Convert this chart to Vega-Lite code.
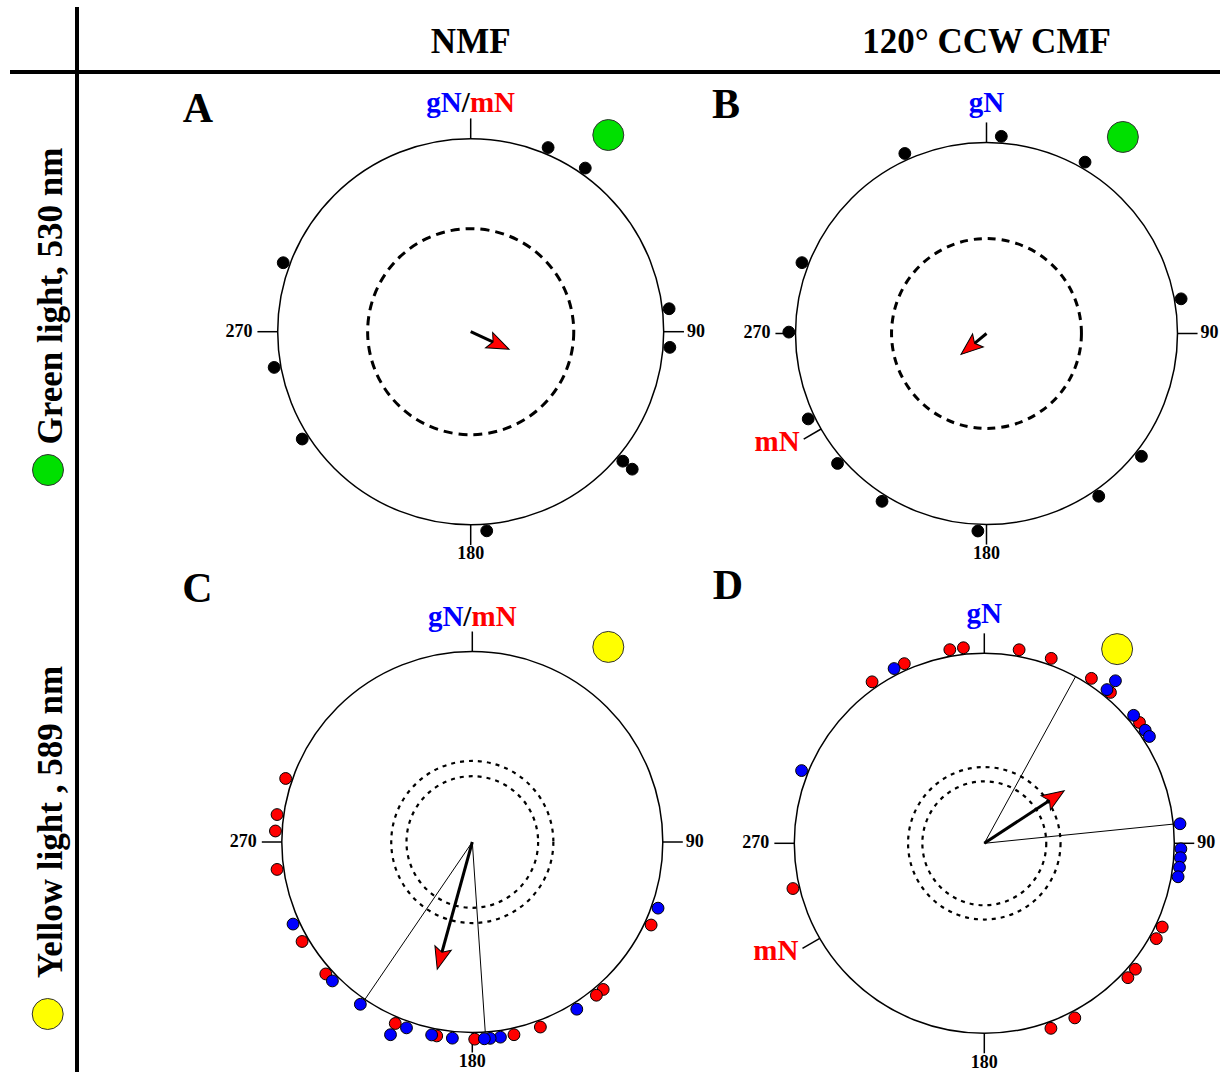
{
  "padding": {"left": 0, "top": 7, "right": 0, "bottom": 0},
  "autosize": {"type": "pad"},
  "background": "white",
  "spacing": 0,
  "config": {
    "view": {"stroke": null},
    "axis": {"disable": true},
    "legend": {"disable": true},
    "text": {"font": "Liberation Serif", "fontWeight": "bold"}
  },
  "datasets": {
    "dots": [
      {"panel": "A", "ref": "all", "angle": 22.8, "stack": 1},
      {"panel": "A", "ref": "all", "angle": 35, "stack": 1},
      {"panel": "A", "ref": "all", "angle": 83.4, "stack": 1},
      {"panel": "A", "ref": "all", "angle": 94.5, "stack": 1},
      {"panel": "A", "ref": "all", "angle": 130.4, "stack": 1},
      {"panel": "A", "ref": "all", "angle": 130.4, "stack": 2},
      {"panel": "A", "ref": "all", "angle": 175.4, "stack": 1},
      {"panel": "A", "ref": "all", "angle": 237.5, "stack": 1},
      {"panel": "A", "ref": "all", "angle": 259.7, "stack": 1},
      {"panel": "A", "ref": "all", "angle": 290.2, "stack": 1},
      {"panel": "B", "ref": "all", "angle": 4.3, "stack": 1},
      {"panel": "B", "ref": "all", "angle": 29.9, "stack": 1},
      {"panel": "B", "ref": "all", "angle": 79.9, "stack": 1},
      {"panel": "B", "ref": "all", "angle": 128.4, "stack": 1},
      {"panel": "B", "ref": "all", "angle": 145.4, "stack": 1},
      {"panel": "B", "ref": "all", "angle": 182.5, "stack": 1},
      {"panel": "B", "ref": "all", "angle": 211.9, "stack": 1},
      {"panel": "B", "ref": "all", "angle": 228.9, "stack": 1},
      {"panel": "B", "ref": "all", "angle": 244.4, "stack": 1},
      {"panel": "B", "ref": "all", "angle": 270.4, "stack": 1},
      {"panel": "B", "ref": "all", "angle": 291, "stack": 1},
      {"panel": "B", "ref": "all", "angle": 335.6, "stack": 1},
      {"panel": "C", "ref": "mN", "angle": 114.9, "stack": 1},
      {"panel": "C", "ref": "mN", "angle": 138.4, "stack": 1},
      {"panel": "C", "ref": "mN", "angle": 141, "stack": 1},
      {"panel": "C", "ref": "mN", "angle": 159.8, "stack": 1},
      {"panel": "C", "ref": "mN", "angle": 167.8, "stack": 1},
      {"panel": "C", "ref": "mN", "angle": 179.3, "stack": 1},
      {"panel": "C", "ref": "mN", "angle": 190.4, "stack": 1},
      {"panel": "C", "ref": "mN", "angle": 203, "stack": 1},
      {"panel": "C", "ref": "mN", "angle": 228, "stack": 1},
      {"panel": "C", "ref": "mN", "angle": 239.7, "stack": 1},
      {"panel": "C", "ref": "mN", "angle": 262, "stack": 1},
      {"panel": "C", "ref": "mN", "angle": 273.2, "stack": 1},
      {"panel": "C", "ref": "mN", "angle": 278, "stack": 1},
      {"panel": "C", "ref": "mN", "angle": 288.8, "stack": 1},
      {"panel": "C", "ref": "gN", "angle": 109.6, "stack": 1},
      {"panel": "C", "ref": "gN", "angle": 148, "stack": 1},
      {"panel": "C", "ref": "gN", "angle": 171.8, "stack": 1},
      {"panel": "C", "ref": "gN", "angle": 174.8, "stack": 1},
      {"panel": "C", "ref": "gN", "angle": 176.5, "stack": 1},
      {"panel": "C", "ref": "gN", "angle": 185.8, "stack": 1},
      {"panel": "C", "ref": "gN", "angle": 191.9, "stack": 1},
      {"panel": "C", "ref": "gN", "angle": 199.5, "stack": 1},
      {"panel": "C", "ref": "gN", "angle": 203, "stack": 2},
      {"panel": "C", "ref": "gN", "angle": 214.6, "stack": 1},
      {"panel": "C", "ref": "gN", "angle": 225.2, "stack": 1},
      {"panel": "C", "ref": "gN", "angle": 245.4, "stack": 1},
      {"panel": "D", "ref": "mN", "angle": 10.2, "stack": 1},
      {"panel": "D", "ref": "mN", "angle": 19.9, "stack": 1},
      {"panel": "D", "ref": "mN", "angle": 33, "stack": 1},
      {"panel": "D", "ref": "mN", "angle": 39.9, "stack": 1},
      {"panel": "D", "ref": "mN", "angle": 52.1, "stack": 1},
      {"panel": "D", "ref": "mN", "angle": 115.2, "stack": 1},
      {"panel": "D", "ref": "mN", "angle": 119, "stack": 1},
      {"panel": "D", "ref": "mN", "angle": 129.8, "stack": 1},
      {"panel": "D", "ref": "mN", "angle": 133.1, "stack": 1},
      {"panel": "D", "ref": "mN", "angle": 152.6, "stack": 1},
      {"panel": "D", "ref": "mN", "angle": 160.2, "stack": 1},
      {"panel": "D", "ref": "mN", "angle": 256.7, "stack": 1},
      {"panel": "D", "ref": "mN", "angle": 325.2, "stack": 1},
      {"panel": "D", "ref": "mN", "angle": 336, "stack": 1},
      {"panel": "D", "ref": "mN", "angle": 349.9, "stack": 1},
      {"panel": "D", "ref": "mN", "angle": 353.9, "stack": 1},
      {"panel": "D", "ref": "gN", "angle": 38.6, "stack": 1},
      {"panel": "D", "ref": "gN", "angle": 38.9, "stack": 2},
      {"panel": "D", "ref": "gN", "angle": 49.4, "stack": 1},
      {"panel": "D", "ref": "gN", "angle": 54.9, "stack": 1},
      {"panel": "D", "ref": "gN", "angle": 57.1, "stack": 1},
      {"panel": "D", "ref": "gN", "angle": 84.3, "stack": 1},
      {"panel": "D", "ref": "gN", "angle": 91.6, "stack": 1},
      {"panel": "D", "ref": "gN", "angle": 94.2, "stack": 1},
      {"panel": "D", "ref": "gN", "angle": 97, "stack": 1},
      {"panel": "D", "ref": "gN", "angle": 99.8, "stack": 1},
      {"panel": "D", "ref": "gN", "angle": 291.7, "stack": 1},
      {"panel": "D", "ref": "gN", "angle": 332.7, "stack": 1}
    ],
    "stats": [
      {"panel": "A", "mean": 114.7, "len": 0.219},
      {"panel": "B", "mean": 230.6, "len": 0.173},
      {"panel": "C", "mean": 195.4, "len": 0.693, "lo": 176.1, "hi": 214.3},
      {"panel": "D", "mean": 56.7, "len": 0.503, "lo": 28.7, "hi": 84.2}
    ],
    "rings": [
      {"panel": "A", "r": 0.534},
      {"panel": "B", "r": 0.492},
      {"panel": "C", "r": 0.341},
      {"panel": "C", "r": 0.42},
      {"panel": "D", "r": 0.321},
      {"panel": "D", "r": 0.395}
    ],
    "ticks": [
      {"panel": "A", "angle": 0}, {"panel": "A", "angle": 90}, {"panel": "A", "angle": 180}, {"panel": "A", "angle": 270},
      {"panel": "B", "angle": 0}, {"panel": "B", "angle": 90}, {"panel": "B", "angle": 180}, {"panel": "B", "angle": 270}, {"panel": "B", "angle": 240},
      {"panel": "C", "angle": 0}, {"panel": "C", "angle": 90}, {"panel": "C", "angle": 180}, {"panel": "C", "angle": 270},
      {"panel": "D", "angle": 0}, {"panel": "D", "angle": 90}, {"panel": "D", "angle": 180}, {"panel": "D", "angle": 270}, {"panel": "D", "angle": 240}
    ]
  },
  "hconcat": [
    {
      "vconcat": [
        {"width": 75, "height": 63, "view": {"fill": "white", "stroke": null}, "data": {"values": [{}]}, "mark": {"type": "point", "opacity": 0, "size": 0, "strokeWidth": 0}, "encoding": {}},
        {
          "hconcat": [
            {"width": 10, "height": 4, "view": {"fill": "white", "stroke": null}, "data": {"values": [{}]}, "mark": {"type": "point", "opacity": 0, "size": 0, "strokeWidth": 0}, "encoding": {}},
            {"width": 65, "height": 4, "view": {"fill": "black", "stroke": null}, "data": {"values": [{}]}, "mark": {"type": "point", "opacity": 0, "size": 0, "strokeWidth": 0}, "encoding": {}}
          ],
          "spacing": 0, "bounds": "flush"
        },
        {"width": 75, "height": 490, "view": {"fill": "white", "stroke": null}, "layer": [
          {"data": {"values": [{}]}, "mark": {"type": "text", "angle": 270, "align": "center", "baseline": "alphabetic", "fontSize": 35, "font": "Liberation Serif", "fontWeight": "bold", "fill": "black"},
           "encoding": {"text": {"value": "Green light, 530 nm"},
             "x": {"datum": 61.5, "type": "quantitative", "scale": {"domain": [0, 75], "nice": false, "zero": false}},
             "y": {"datum": 268, "type": "quantitative", "scale": {"domain": [0, 490], "nice": false, "zero": false}}}},
          {"data": {"values": [{}]}, "mark": {"type": "point", "shape": "circle", "filled": true, "size": 961, "fill": "#00e000", "stroke": "#333333", "strokeWidth": 1, "opacity": 1},
           "encoding": {"x": {"datum": 48, "type": "quantitative", "scale": {"domain": [0, 75], "nice": false, "zero": false}},
             "y": {"datum": 94, "type": "quantitative", "scale": {"domain": [0, 490], "nice": false, "zero": false}}}}
        ]},
        {"width": 75, "height": 508, "view": {"fill": "white", "stroke": null}, "layer": [
          {"data": {"values": [{}]}, "mark": {"type": "text", "angle": 270, "align": "center", "baseline": "alphabetic", "fontSize": 35, "font": "Liberation Serif", "fontWeight": "bold", "fill": "black"},
           "encoding": {"text": {"value": "Yellow light , 589 nm"},
             "x": {"datum": 61.5, "type": "quantitative", "scale": {"domain": [0, 75], "nice": false, "zero": false}},
             "y": {"datum": 250, "type": "quantitative", "scale": {"domain": [0, 508], "nice": false, "zero": false}}}},
          {"data": {"values": [{}]}, "mark": {"type": "point", "shape": "circle", "filled": true, "size": 961, "fill": "#ffff00", "stroke": "#333333", "strokeWidth": 1, "opacity": 1},
           "encoding": {"x": {"datum": 47.7, "type": "quantitative", "scale": {"domain": [0, 75], "nice": false, "zero": false}},
             "y": {"datum": 58, "type": "quantitative", "scale": {"domain": [0, 508], "nice": false, "zero": false}}}}
        ]}
      ],
      "spacing": 0
    },
    {"width": 4, "height": 1065, "view": {"fill": "black", "stroke": null}, "data": {"values": [{}]}, "mark": {"type": "point", "opacity": 0, "size": 0, "strokeWidth": 0}, "encoding": {}},
    {
      "vconcat": [
        {
          "hconcat": [
            {"width": 648, "height": 63, "view": {"fill": "white", "stroke": null}, "data": {"values": [{}]},
             "mark": {"type": "text", "fontSize": 35, "font": "Liberation Serif", "fontWeight": "bold", "align": "center", "baseline": "alphabetic", "fill": "black"},
             "encoding": {"text": {"value": "NMF"},
               "x": {"datum": 0, "type": "quantitative", "scale": {"domain": [-2.0295, 1.328], "nice": false, "zero": false}},
               "y": {"datum": 16.7, "type": "quantitative", "scale": {"domain": [0, 63], "nice": false, "zero": false}}}},
            {"width": 501, "height": 63, "view": {"fill": "white", "stroke": null}, "data": {"values": [{}]},
             "mark": {"type": "text", "fontSize": 35, "font": "Liberation Serif", "fontWeight": "bold", "align": "center", "baseline": "alphabetic", "fill": "black"},
             "encoding": {"text": {"value": "120° CCW CMF"},
               "x": {"datum": 0, "type": "quantitative", "scale": {"domain": [-1.3586, 1.2644], "nice": false, "zero": false}},
               "y": {"datum": 16.7, "type": "quantitative", "scale": {"domain": [0, 63], "nice": false, "zero": false}}}}
          ],
          "spacing": 0, "bounds": "flush"
        },
        {"width": 1141, "height": 4, "view": {"fill": "black", "stroke": null}, "data": {"values": [{}]}, "mark": {"type": "point", "opacity": 0, "size": 0, "strokeWidth": 0}, "encoding": {}},
        {
          "hconcat": [
            {"width": 648, "height": 490, "view": {"fill": "white", "stroke": null}, "layer": [
              {"data": {"values": [{}]}, "mark": {"type": "point", "shape": "circle", "filled": false, "size": 148996, "stroke": "black", "strokeWidth": 1.5, "opacity": 1},
               "encoding": {"x": {"datum": 0, "type": "quantitative", "scale": {"domain": [-2.0295, 1.328], "nice": false, "zero": false}},
                 "y": {"datum": 0, "type": "quantitative", "scale": {"domain": [-1.2036, 1.3352], "nice": false, "zero": false}}}},
              {"data": {"name": "rings"}, "transform": [{"filter": "datum.panel==='A'"}],
               "mark": {"type": "point", "shape": "circle", "filled": false, "stroke": "black", "strokeWidth": 3, "strokeDash": [9, 6], "opacity": 1},
               "encoding": {"x": {"datum": 0, "type": "quantitative", "scale": {"domain": [-2.0295, 1.328], "nice": false, "zero": false}},
                 "y": {"datum": 0, "type": "quantitative", "scale": {"domain": [-1.2036, 1.3352], "nice": false, "zero": false}},
                 "size": {"field": "r", "type": "quantitative", "scale": {"type": "pow", "exponent": 2, "domain": [0, 1], "range": [0, 148996]}, "legend": null}}},
              {"data": {"name": "ticks"}, "transform": [{"filter": "datum.panel==='A'"}, {"calculate": "sin(datum.angle*PI/180)", "as": "x"}, {"calculate": "cos(datum.angle*PI/180)", "as": "y"}, {"calculate": "1.105*datum.x", "as": "x2"}, {"calculate": "1.105*datum.y", "as": "y2"}],
               "mark": {"type": "rule", "stroke": "black", "strokeWidth": 1.5},
               "encoding": {"x": {"field": "x", "type": "quantitative", "scale": {"domain": [-2.0295, 1.328], "nice": false, "zero": false}},
                 "y": {"field": "y", "type": "quantitative", "scale": {"domain": [-1.2036, 1.3352], "nice": false, "zero": false}},
                 "x2": {"field": "x2"}, "y2": {"field": "y2"}}},
              {"data": {"name": "stats"}, "transform": [{"filter": "datum.panel==='A'"}, {"calculate": "0", "as": "x"}, {"calculate": "0", "as": "y"}, {"calculate": "(datum.len-0.09)*sin(datum.mean*PI/180)", "as": "x2"}, {"calculate": "(datum.len-0.09)*cos(datum.mean*PI/180)", "as": "y2"}],
               "mark": {"type": "rule", "stroke": "black", "strokeWidth": 3},
               "encoding": {"x": {"field": "x", "type": "quantitative", "scale": {"domain": [-2.0295, 1.328], "nice": false, "zero": false}},
                 "y": {"field": "y", "type": "quantitative", "scale": {"domain": [-1.2036, 1.3352], "nice": false, "zero": false}},
                 "x2": {"field": "x2"}, "y2": {"field": "y2"}}},
              {"data": {"name": "stats"}, "transform": [{"filter": "datum.panel==='A'"}, {"calculate": "datum.len*sin(datum.mean*PI/180)", "as": "x"}, {"calculate": "datum.len*cos(datum.mean*PI/180)", "as": "y"}],
               "mark": {"type": "point", "shape": "M0,0L0.77,2L0,1.6L-0.77,2Z", "filled": true, "fill": "#ff0000", "stroke": "black", "strokeWidth": 1, "size": 484, "opacity": 1},
               "encoding": {"x": {"field": "x", "type": "quantitative", "scale": {"domain": [-2.0295, 1.328], "nice": false, "zero": false}},
                 "y": {"field": "y", "type": "quantitative", "scale": {"domain": [-1.2036, 1.3352], "nice": false, "zero": false}},
                 "angle": {"field": "mean", "type": "quantitative", "scale": {"domain": [0, 360], "range": [0, 360]}}}},
              {"data": {"name": "dots"}, "transform": [{"filter": "datum.panel==='A'"}, {"calculate": "1.035+(datum.stack-1)*0.064", "as": "r"}, {"calculate": "datum.r*sin(datum.angle*PI/180)", "as": "x"}, {"calculate": "datum.r*cos(datum.angle*PI/180)", "as": "y"}],
               "mark": {"type": "point", "shape": "circle", "filled": true, "size": 140, "stroke": "black", "strokeWidth": 1, "opacity": 1},
               "encoding": {"x": {"field": "x", "type": "quantitative", "scale": {"domain": [-2.0295, 1.328], "nice": false, "zero": false}},
                 "y": {"field": "y", "type": "quantitative", "scale": {"domain": [-1.2036, 1.3352], "nice": false, "zero": false}},
                 "fill": {"field": "ref", "type": "nominal", "scale": {"domain": ["all", "mN", "gN"], "range": ["#000000", "#ff0000", "#0000ff"]}, "legend": null}}},
              {"data": {"values": [{}]}, "mark": {"type": "text", "align": "left", "baseline": "middle", "dx": 3, "fontSize": 18, "font": "Liberation Serif", "fontWeight": "bold", "fill": "black"},
               "encoding": {"text": {"value": "90"}, "x": {"datum": 1.105, "type": "quantitative", "scale": {"domain": [-2.0295, 1.328], "nice": false, "zero": false}},
                 "y": {"datum": 0, "type": "quantitative", "scale": {"domain": [-1.2036, 1.3352], "nice": false, "zero": false}}}},
              {"data": {"values": [{}]}, "mark": {"type": "text", "align": "right", "baseline": "middle", "dx": -5, "fontSize": 18, "font": "Liberation Serif", "fontWeight": "bold", "fill": "black"},
               "encoding": {"text": {"value": "270"}, "x": {"datum": -1.105, "type": "quantitative", "scale": {"domain": [-2.0295, 1.328], "nice": false, "zero": false}},
                 "y": {"datum": 0, "type": "quantitative", "scale": {"domain": [-1.2036, 1.3352], "nice": false, "zero": false}}}},
              {"data": {"values": [{}]}, "mark": {"type": "text", "align": "center", "baseline": "alphabetic", "dy": 14.5, "fontSize": 18, "font": "Liberation Serif", "fontWeight": "bold", "fill": "black"},
               "encoding": {"text": {"value": "180"}, "x": {"datum": 0, "type": "quantitative", "scale": {"domain": [-2.0295, 1.328], "nice": false, "zero": false}},
                 "y": {"datum": -1.105, "type": "quantitative", "scale": {"domain": [-1.2036, 1.3352], "nice": false, "zero": false}}}},
              {"data": {"values": [{}]}, "mark": {"type": "text", "align": "right", "baseline": "alphabetic", "dx": -8.9, "dy": -6, "fontSize": 29, "font": "Liberation Serif", "fontWeight": "bold", "fill": "#0000ff"},
               "encoding": {"text": {"value": "gN"}, "x": {"datum": 0, "type": "quantitative", "scale": {"domain": [-2.0295, 1.328], "nice": false, "zero": false}},
                 "y": {"datum": 1.105, "type": "quantitative", "scale": {"domain": [-1.2036, 1.3352], "nice": false, "zero": false}}}},
              {"data": {"values": [{}]}, "mark": {"type": "text", "align": "center", "baseline": "alphabetic", "dx": -4.9, "dy": -6, "fontSize": 29, "font": "Liberation Serif", "fontWeight": "bold", "fill": "black"},
               "encoding": {"text": {"value": "/"}, "x": {"datum": 0, "type": "quantitative", "scale": {"domain": [-2.0295, 1.328], "nice": false, "zero": false}},
                 "y": {"datum": 1.105, "type": "quantitative", "scale": {"domain": [-1.2036, 1.3352], "nice": false, "zero": false}}}},
              {"data": {"values": [{}]}, "mark": {"type": "text", "align": "left", "baseline": "alphabetic", "dx": -0.8, "dy": -6, "fontSize": 29, "font": "Liberation Serif", "fontWeight": "bold", "fill": "#ff0000"},
               "encoding": {"text": {"value": "mN"}, "x": {"datum": 0, "type": "quantitative", "scale": {"domain": [-2.0295, 1.328], "nice": false, "zero": false}},
                 "y": {"datum": 1.105, "type": "quantitative", "scale": {"domain": [-1.2036, 1.3352], "nice": false, "zero": false}}}},
              {"data": {"values": [{}]}, "mark": {"type": "text", "align": "center", "baseline": "alphabetic", "fontSize": 42, "font": "Liberation Serif", "fontWeight": "bold", "fill": "black"},
               "encoding": {"text": {"value": "A"}, "x": {"datum": -1.413, "type": "quantitative", "scale": {"domain": [-2.0295, 1.328], "nice": false, "zero": false}},
                 "y": {"datum": 1.087, "type": "quantitative", "scale": {"domain": [-1.2036, 1.3352], "nice": false, "zero": false}}}},
              {"data": {"values": [{}]}, "mark": {"type": "point", "shape": "circle", "filled": true, "size": 961, "fill": "#00e000", "stroke": "#333333", "strokeWidth": 1, "opacity": 1},
               "encoding": {"x": {"datum": 0.713, "type": "quantitative", "scale": {"domain": [-2.0295, 1.328], "nice": false, "zero": false}},
                 "y": {"datum": 1.019, "type": "quantitative", "scale": {"domain": [-1.2036, 1.3352], "nice": false, "zero": false}}}}
            ]},
            {"width": 501, "height": 490, "view": {"fill": "white", "stroke": null}, "layer": [
              {"data": {"values": [{}]}, "mark": {"type": "point", "shape": "circle", "filled": false, "size": 145924, "stroke": "black", "strokeWidth": 1.5, "opacity": 1},
               "encoding": {"x": {"datum": 0, "type": "quantitative", "scale": {"domain": [-1.3586, 1.2644], "nice": false, "zero": false}},
                 "y": {"datum": 0, "type": "quantitative", "scale": {"domain": [-1.2068, 1.3586], "nice": false, "zero": false}}}},
              {"data": {"name": "rings"}, "transform": [{"filter": "datum.panel==='B'"}],
               "mark": {"type": "point", "shape": "circle", "filled": false, "stroke": "black", "strokeWidth": 3, "strokeDash": [8, 6], "opacity": 1},
               "encoding": {"x": {"datum": 0, "type": "quantitative", "scale": {"domain": [-1.3586, 1.2644], "nice": false, "zero": false}},
                 "y": {"datum": 0, "type": "quantitative", "scale": {"domain": [-1.2068, 1.3586], "nice": false, "zero": false}},
                 "size": {"field": "r", "type": "quantitative", "scale": {"type": "pow", "exponent": 2, "domain": [0, 1], "range": [0, 145924]}, "legend": null}}},
              {"data": {"name": "ticks"}, "transform": [{"filter": "datum.panel==='B'"}, {"calculate": "sin(datum.angle*PI/180)", "as": "x"}, {"calculate": "cos(datum.angle*PI/180)", "as": "y"}, {"calculate": "1.105*datum.x", "as": "x2"}, {"calculate": "1.105*datum.y", "as": "y2"}],
               "mark": {"type": "rule", "stroke": "black", "strokeWidth": 1.5},
               "encoding": {"x": {"field": "x", "type": "quantitative", "scale": {"domain": [-1.3586, 1.2644], "nice": false, "zero": false}},
                 "y": {"field": "y", "type": "quantitative", "scale": {"domain": [-1.2068, 1.3586], "nice": false, "zero": false}},
                 "x2": {"field": "x2"}, "y2": {"field": "y2"}}},
              {"data": {"name": "stats"}, "transform": [{"filter": "datum.panel==='B'"}, {"calculate": "0", "as": "x"}, {"calculate": "0", "as": "y"}, {"calculate": "(datum.len-0.09)*sin(datum.mean*PI/180)", "as": "x2"}, {"calculate": "(datum.len-0.09)*cos(datum.mean*PI/180)", "as": "y2"}],
               "mark": {"type": "rule", "stroke": "black", "strokeWidth": 3},
               "encoding": {"x": {"field": "x", "type": "quantitative", "scale": {"domain": [-1.3586, 1.2644], "nice": false, "zero": false}},
                 "y": {"field": "y", "type": "quantitative", "scale": {"domain": [-1.2068, 1.3586], "nice": false, "zero": false}},
                 "x2": {"field": "x2"}, "y2": {"field": "y2"}}},
              {"data": {"name": "stats"}, "transform": [{"filter": "datum.panel==='B'"}, {"calculate": "datum.len*sin(datum.mean*PI/180)", "as": "x"}, {"calculate": "datum.len*cos(datum.mean*PI/180)", "as": "y"}],
               "mark": {"type": "point", "shape": "M0,0L0.77,2L0,1.6L-0.77,2Z", "filled": true, "fill": "#ff0000", "stroke": "black", "strokeWidth": 1, "size": 484, "opacity": 1},
               "encoding": {"x": {"field": "x", "type": "quantitative", "scale": {"domain": [-1.3586, 1.2644], "nice": false, "zero": false}},
                 "y": {"field": "y", "type": "quantitative", "scale": {"domain": [-1.2068, 1.3586], "nice": false, "zero": false}},
                 "angle": {"field": "mean", "type": "quantitative", "scale": {"domain": [0, 360], "range": [0, 360]}}}},
              {"data": {"name": "dots"}, "transform": [{"filter": "datum.panel==='B'"}, {"calculate": "1.035+(datum.stack-1)*0.064", "as": "r"}, {"calculate": "datum.r*sin(datum.angle*PI/180)", "as": "x"}, {"calculate": "datum.r*cos(datum.angle*PI/180)", "as": "y"}],
               "mark": {"type": "point", "shape": "circle", "filled": true, "size": 140, "stroke": "black", "strokeWidth": 1, "opacity": 1},
               "encoding": {"x": {"field": "x", "type": "quantitative", "scale": {"domain": [-1.3586, 1.2644], "nice": false, "zero": false}},
                 "y": {"field": "y", "type": "quantitative", "scale": {"domain": [-1.2068, 1.3586], "nice": false, "zero": false}},
                 "fill": {"field": "ref", "type": "nominal", "scale": {"domain": ["all", "mN", "gN"], "range": ["#000000", "#ff0000", "#0000ff"]}, "legend": null}}},
              {"data": {"values": [{}]}, "mark": {"type": "text", "align": "left", "baseline": "middle", "dx": 3, "fontSize": 18, "font": "Liberation Serif", "fontWeight": "bold", "fill": "black"},
               "encoding": {"text": {"value": "90"}, "x": {"datum": 1.105, "type": "quantitative", "scale": {"domain": [-1.3586, 1.2644], "nice": false, "zero": false}},
                 "y": {"datum": 0, "type": "quantitative", "scale": {"domain": [-1.2068, 1.3586], "nice": false, "zero": false}}}},
              {"data": {"values": [{}]}, "mark": {"type": "text", "align": "right", "baseline": "middle", "dx": -5, "fontSize": 18, "font": "Liberation Serif", "fontWeight": "bold", "fill": "black"},
               "encoding": {"text": {"value": "270"}, "x": {"datum": -1.105, "type": "quantitative", "scale": {"domain": [-1.3586, 1.2644], "nice": false, "zero": false}},
                 "y": {"datum": 0, "type": "quantitative", "scale": {"domain": [-1.2068, 1.3586], "nice": false, "zero": false}}}},
              {"data": {"values": [{}]}, "mark": {"type": "text", "align": "center", "baseline": "alphabetic", "dy": 14.5, "fontSize": 18, "font": "Liberation Serif", "fontWeight": "bold", "fill": "black"},
               "encoding": {"text": {"value": "180"}, "x": {"datum": 0, "type": "quantitative", "scale": {"domain": [-1.3586, 1.2644], "nice": false, "zero": false}},
                 "y": {"datum": -1.105, "type": "quantitative", "scale": {"domain": [-1.2068, 1.3586], "nice": false, "zero": false}}}},
              {"data": {"values": [{}]}, "mark": {"type": "text", "align": "center", "baseline": "alphabetic", "dy": -10.5, "fontSize": 29, "font": "Liberation Serif", "fontWeight": "bold", "fill": "#0000ff"},
               "encoding": {"text": {"value": "gN"}, "x": {"datum": 0, "type": "quantitative", "scale": {"domain": [-1.3586, 1.2644], "nice": false, "zero": false}},
                 "y": {"datum": 1.105, "type": "quantitative", "scale": {"domain": [-1.2068, 1.3586], "nice": false, "zero": false}}}},
              {"data": {"values": [{}]}, "mark": {"type": "text", "align": "right", "baseline": "alphabetic", "dx": -4, "dy": 12, "fontSize": 29, "font": "Liberation Serif", "fontWeight": "bold", "fill": "#ff0000"},
               "encoding": {"text": {"value": "mN"}, "x": {"datum": -0.957, "type": "quantitative", "scale": {"domain": [-1.3586, 1.2644], "nice": false, "zero": false}},
                 "y": {"datum": -0.5525, "type": "quantitative", "scale": {"domain": [-1.2068, 1.3586], "nice": false, "zero": false}}}},
              {"data": {"values": [{}]}, "mark": {"type": "text", "align": "center", "baseline": "alphabetic", "fontSize": 42, "font": "Liberation Serif", "fontWeight": "bold", "fill": "black"},
               "encoding": {"text": {"value": "B"}, "x": {"datum": -1.364, "type": "quantitative", "scale": {"domain": [-1.3586, 1.2644], "nice": false, "zero": false}},
                 "y": {"datum": 1.127, "type": "quantitative", "scale": {"domain": [-1.2068, 1.3586], "nice": false, "zero": false}}}},
              {"data": {"values": [{}]}, "mark": {"type": "point", "shape": "circle", "filled": true, "size": 961, "fill": "#00e000", "stroke": "#333333", "strokeWidth": 1, "opacity": 1},
               "encoding": {"x": {"datum": 0.714, "type": "quantitative", "scale": {"domain": [-1.3586, 1.2644], "nice": false, "zero": false}},
                 "y": {"datum": 1.029, "type": "quantitative", "scale": {"domain": [-1.2068, 1.3586], "nice": false, "zero": false}}}}
            ]}
          ],
          "spacing": 0, "bounds": "flush"
        },
        {
          "hconcat": [
            {"width": 648, "height": 508, "view": {"fill": "white", "stroke": null}, "layer": [
              {"data": {"values": [{}]}, "mark": {"type": "point", "shape": "circle", "filled": false, "size": 145161, "stroke": "black", "strokeWidth": 1.5, "opacity": 1},
               "encoding": {"x": {"datum": 0, "type": "quantitative", "scale": {"domain": [-2.0646, 1.337], "nice": false, "zero": false}},
                 "y": {"datum": 0, "type": "quantitative", "scale": {"domain": [-1.2126, 1.4541], "nice": false, "zero": false}}}},
              {"data": {"name": "rings"}, "transform": [{"filter": "datum.panel==='C'"}],
               "mark": {"type": "point", "shape": "circle", "filled": false, "stroke": "black", "strokeWidth": 2.2, "strokeDash": [4, 5], "opacity": 1},
               "encoding": {"x": {"datum": 0, "type": "quantitative", "scale": {"domain": [-2.0646, 1.337], "nice": false, "zero": false}},
                 "y": {"datum": 0, "type": "quantitative", "scale": {"domain": [-1.2126, 1.4541], "nice": false, "zero": false}},
                 "size": {"field": "r", "type": "quantitative", "scale": {"type": "pow", "exponent": 2, "domain": [0, 1], "range": [0, 145161]}, "legend": null}}},
              {"data": {"name": "ticks"}, "transform": [{"filter": "datum.panel==='C'"}, {"calculate": "sin(datum.angle*PI/180)", "as": "x"}, {"calculate": "cos(datum.angle*PI/180)", "as": "y"}, {"calculate": "1.105*datum.x", "as": "x2"}, {"calculate": "1.105*datum.y", "as": "y2"}],
               "mark": {"type": "rule", "stroke": "black", "strokeWidth": 1.5},
               "encoding": {"x": {"field": "x", "type": "quantitative", "scale": {"domain": [-2.0646, 1.337], "nice": false, "zero": false}},
                 "y": {"field": "y", "type": "quantitative", "scale": {"domain": [-1.2126, 1.4541], "nice": false, "zero": false}},
                 "x2": {"field": "x2"}, "y2": {"field": "y2"}}},
              {"data": {"name": "stats"}, "transform": [{"filter": "datum.panel==='C'"}, {"fold": ["lo", "hi"], "as": ["bound", "ang"]}, {"calculate": "0", "as": "x"}, {"calculate": "0", "as": "y"}, {"calculate": "sin(datum.ang*PI/180)", "as": "x2"}, {"calculate": "cos(datum.ang*PI/180)", "as": "y2"}],
               "mark": {"type": "rule", "stroke": "black", "strokeWidth": 1},
               "encoding": {"x": {"field": "x", "type": "quantitative", "scale": {"domain": [-2.0646, 1.337], "nice": false, "zero": false}},
                 "y": {"field": "y", "type": "quantitative", "scale": {"domain": [-1.2126, 1.4541], "nice": false, "zero": false}},
                 "x2": {"field": "x2"}, "y2": {"field": "y2"}}},
              {"data": {"name": "stats"}, "transform": [{"filter": "datum.panel==='C'"}, {"calculate": "0", "as": "x"}, {"calculate": "0", "as": "y"}, {"calculate": "(datum.len-0.09)*sin(datum.mean*PI/180)", "as": "x2"}, {"calculate": "(datum.len-0.09)*cos(datum.mean*PI/180)", "as": "y2"}],
               "mark": {"type": "rule", "stroke": "black", "strokeWidth": 3},
               "encoding": {"x": {"field": "x", "type": "quantitative", "scale": {"domain": [-2.0646, 1.337], "nice": false, "zero": false}},
                 "y": {"field": "y", "type": "quantitative", "scale": {"domain": [-1.2126, 1.4541], "nice": false, "zero": false}},
                 "x2": {"field": "x2"}, "y2": {"field": "y2"}}},
              {"data": {"name": "stats"}, "transform": [{"filter": "datum.panel==='C'"}, {"calculate": "datum.len*sin(datum.mean*PI/180)", "as": "x"}, {"calculate": "datum.len*cos(datum.mean*PI/180)", "as": "y"}],
               "mark": {"type": "point", "shape": "M0,0L0.77,2L0,1.6L-0.77,2Z", "filled": true, "fill": "#ff0000", "stroke": "black", "strokeWidth": 1, "size": 484, "opacity": 1},
               "encoding": {"x": {"field": "x", "type": "quantitative", "scale": {"domain": [-2.0646, 1.337], "nice": false, "zero": false}},
                 "y": {"field": "y", "type": "quantitative", "scale": {"domain": [-1.2126, 1.4541], "nice": false, "zero": false}},
                 "angle": {"field": "mean", "type": "quantitative", "scale": {"domain": [0, 360], "range": [0, 360]}}}},
              {"data": {"name": "dots"}, "transform": [{"filter": "datum.panel==='C'"}, {"calculate": "1.035+(datum.stack-1)*0.064", "as": "r"}, {"calculate": "datum.r*sin(datum.angle*PI/180)", "as": "x"}, {"calculate": "datum.r*cos(datum.angle*PI/180)", "as": "y"}],
               "mark": {"type": "point", "shape": "circle", "filled": true, "size": 140, "stroke": "black", "strokeWidth": 1, "opacity": 1},
               "encoding": {"x": {"field": "x", "type": "quantitative", "scale": {"domain": [-2.0646, 1.337], "nice": false, "zero": false}},
                 "y": {"field": "y", "type": "quantitative", "scale": {"domain": [-1.2126, 1.4541], "nice": false, "zero": false}},
                 "fill": {"field": "ref", "type": "nominal", "scale": {"domain": ["all", "mN", "gN"], "range": ["#000000", "#ff0000", "#0000ff"]}, "legend": null}}},
              {"data": {"values": [{}]}, "mark": {"type": "text", "align": "left", "baseline": "middle", "dx": 3, "fontSize": 18, "font": "Liberation Serif", "fontWeight": "bold", "fill": "black"},
               "encoding": {"text": {"value": "90"}, "x": {"datum": 1.105, "type": "quantitative", "scale": {"domain": [-2.0646, 1.337], "nice": false, "zero": false}},
                 "y": {"datum": 0, "type": "quantitative", "scale": {"domain": [-1.2126, 1.4541], "nice": false, "zero": false}}}},
              {"data": {"values": [{}]}, "mark": {"type": "text", "align": "right", "baseline": "middle", "dx": -5, "fontSize": 18, "font": "Liberation Serif", "fontWeight": "bold", "fill": "black"},
               "encoding": {"text": {"value": "270"}, "x": {"datum": -1.105, "type": "quantitative", "scale": {"domain": [-2.0646, 1.337], "nice": false, "zero": false}},
                 "y": {"datum": 0, "type": "quantitative", "scale": {"domain": [-1.2126, 1.4541], "nice": false, "zero": false}}}},
              {"data": {"values": [{}]}, "mark": {"type": "text", "align": "center", "baseline": "alphabetic", "dy": 14.5, "fontSize": 18, "font": "Liberation Serif", "fontWeight": "bold", "fill": "black"},
               "encoding": {"text": {"value": "180"}, "x": {"datum": 0, "type": "quantitative", "scale": {"domain": [-2.0646, 1.337], "nice": false, "zero": false}},
                 "y": {"datum": -1.105, "type": "quantitative", "scale": {"domain": [-1.2126, 1.4541], "nice": false, "zero": false}}}},
              {"data": {"values": [{}]}, "mark": {"type": "text", "align": "right", "baseline": "alphabetic", "dx": -8.9, "dy": -6, "fontSize": 29, "font": "Liberation Serif", "fontWeight": "bold", "fill": "#0000ff"},
               "encoding": {"text": {"value": "gN"}, "x": {"datum": 0, "type": "quantitative", "scale": {"domain": [-2.0646, 1.337], "nice": false, "zero": false}},
                 "y": {"datum": 1.105, "type": "quantitative", "scale": {"domain": [-1.2126, 1.4541], "nice": false, "zero": false}}}},
              {"data": {"values": [{}]}, "mark": {"type": "text", "align": "center", "baseline": "alphabetic", "dx": -4.9, "dy": -6, "fontSize": 29, "font": "Liberation Serif", "fontWeight": "bold", "fill": "black"},
               "encoding": {"text": {"value": "/"}, "x": {"datum": 0, "type": "quantitative", "scale": {"domain": [-2.0646, 1.337], "nice": false, "zero": false}},
                 "y": {"datum": 1.105, "type": "quantitative", "scale": {"domain": [-1.2126, 1.4541], "nice": false, "zero": false}}}},
              {"data": {"values": [{}]}, "mark": {"type": "text", "align": "left", "baseline": "alphabetic", "dx": -0.8, "dy": -6, "fontSize": 29, "font": "Liberation Serif", "fontWeight": "bold", "fill": "#ff0000"},
               "encoding": {"text": {"value": "mN"}, "x": {"datum": 0, "type": "quantitative", "scale": {"domain": [-2.0646, 1.337], "nice": false, "zero": false}},
                 "y": {"datum": 1.105, "type": "quantitative", "scale": {"domain": [-1.2126, 1.4541], "nice": false, "zero": false}}}},
              {"data": {"values": [{}]}, "mark": {"type": "text", "align": "center", "baseline": "alphabetic", "fontSize": 42, "font": "Liberation Serif", "fontWeight": "bold", "fill": "black"},
               "encoding": {"text": {"value": "C"}, "x": {"datum": -1.4425, "type": "quantitative", "scale": {"domain": [-2.0646, 1.337], "nice": false, "zero": false}},
                 "y": {"datum": 1.2614, "type": "quantitative", "scale": {"domain": [-1.2126, 1.4541], "nice": false, "zero": false}}}},
              {"data": {"values": [{}]}, "mark": {"type": "point", "shape": "circle", "filled": true, "size": 961, "fill": "#ffff00", "stroke": "#333333", "strokeWidth": 1, "opacity": 1},
               "encoding": {"x": {"datum": 0.714, "type": "quantitative", "scale": {"domain": [-2.0646, 1.337], "nice": false, "zero": false}},
                 "y": {"datum": 1.024, "type": "quantitative", "scale": {"domain": [-1.2126, 1.4541], "nice": false, "zero": false}}}}
            ]},
            {"width": 501, "height": 508, "view": {"fill": "white", "stroke": null}, "layer": [
              {"data": {"values": [{}]}, "mark": {"type": "point", "shape": "circle", "filled": false, "size": 144400, "stroke": "black", "strokeWidth": 1.5, "opacity": 1},
               "encoding": {"x": {"datum": 0, "type": "quantitative", "scale": {"domain": [-1.3542, 1.2826], "nice": false, "zero": false}},
                 "y": {"datum": 0, "type": "quantitative", "scale": {"domain": [-1.2089, 1.4647], "nice": false, "zero": false}}}},
              {"data": {"name": "rings"}, "transform": [{"filter": "datum.panel==='D'"}],
               "mark": {"type": "point", "shape": "circle", "filled": false, "stroke": "black", "strokeWidth": 2.2, "strokeDash": [4, 5], "opacity": 1},
               "encoding": {"x": {"datum": 0, "type": "quantitative", "scale": {"domain": [-1.3542, 1.2826], "nice": false, "zero": false}},
                 "y": {"datum": 0, "type": "quantitative", "scale": {"domain": [-1.2089, 1.4647], "nice": false, "zero": false}},
                 "size": {"field": "r", "type": "quantitative", "scale": {"type": "pow", "exponent": 2, "domain": [0, 1], "range": [0, 144400]}, "legend": null}}},
              {"data": {"name": "ticks"}, "transform": [{"filter": "datum.panel==='D'"}, {"calculate": "sin(datum.angle*PI/180)", "as": "x"}, {"calculate": "cos(datum.angle*PI/180)", "as": "y"}, {"calculate": "1.105*datum.x", "as": "x2"}, {"calculate": "1.105*datum.y", "as": "y2"}],
               "mark": {"type": "rule", "stroke": "black", "strokeWidth": 1.5},
               "encoding": {"x": {"field": "x", "type": "quantitative", "scale": {"domain": [-1.3542, 1.2826], "nice": false, "zero": false}},
                 "y": {"field": "y", "type": "quantitative", "scale": {"domain": [-1.2089, 1.4647], "nice": false, "zero": false}},
                 "x2": {"field": "x2"}, "y2": {"field": "y2"}}},
              {"data": {"name": "stats"}, "transform": [{"filter": "datum.panel==='D'"}, {"fold": ["lo", "hi"], "as": ["bound", "ang"]}, {"calculate": "0", "as": "x"}, {"calculate": "0", "as": "y"}, {"calculate": "sin(datum.ang*PI/180)", "as": "x2"}, {"calculate": "cos(datum.ang*PI/180)", "as": "y2"}],
               "mark": {"type": "rule", "stroke": "black", "strokeWidth": 1},
               "encoding": {"x": {"field": "x", "type": "quantitative", "scale": {"domain": [-1.3542, 1.2826], "nice": false, "zero": false}},
                 "y": {"field": "y", "type": "quantitative", "scale": {"domain": [-1.2089, 1.4647], "nice": false, "zero": false}},
                 "x2": {"field": "x2"}, "y2": {"field": "y2"}}},
              {"data": {"name": "stats"}, "transform": [{"filter": "datum.panel==='D'"}, {"calculate": "0", "as": "x"}, {"calculate": "0", "as": "y"}, {"calculate": "(datum.len-0.09)*sin(datum.mean*PI/180)", "as": "x2"}, {"calculate": "(datum.len-0.09)*cos(datum.mean*PI/180)", "as": "y2"}],
               "mark": {"type": "rule", "stroke": "black", "strokeWidth": 3},
               "encoding": {"x": {"field": "x", "type": "quantitative", "scale": {"domain": [-1.3542, 1.2826], "nice": false, "zero": false}},
                 "y": {"field": "y", "type": "quantitative", "scale": {"domain": [-1.2089, 1.4647], "nice": false, "zero": false}},
                 "x2": {"field": "x2"}, "y2": {"field": "y2"}}},
              {"data": {"name": "stats"}, "transform": [{"filter": "datum.panel==='D'"}, {"calculate": "datum.len*sin(datum.mean*PI/180)", "as": "x"}, {"calculate": "datum.len*cos(datum.mean*PI/180)", "as": "y"}],
               "mark": {"type": "point", "shape": "M0,0L0.77,2L0,1.6L-0.77,2Z", "filled": true, "fill": "#ff0000", "stroke": "black", "strokeWidth": 1, "size": 484, "opacity": 1},
               "encoding": {"x": {"field": "x", "type": "quantitative", "scale": {"domain": [-1.3542, 1.2826], "nice": false, "zero": false}},
                 "y": {"field": "y", "type": "quantitative", "scale": {"domain": [-1.2089, 1.4647], "nice": false, "zero": false}},
                 "angle": {"field": "mean", "type": "quantitative", "scale": {"domain": [0, 360], "range": [0, 360]}}}},
              {"data": {"name": "dots"}, "transform": [{"filter": "datum.panel==='D'"}, {"calculate": "1.035+(datum.stack-1)*0.064", "as": "r"}, {"calculate": "datum.r*sin(datum.angle*PI/180)", "as": "x"}, {"calculate": "datum.r*cos(datum.angle*PI/180)", "as": "y"}],
               "mark": {"type": "point", "shape": "circle", "filled": true, "size": 140, "stroke": "black", "strokeWidth": 1, "opacity": 1},
               "encoding": {"x": {"field": "x", "type": "quantitative", "scale": {"domain": [-1.3542, 1.2826], "nice": false, "zero": false}},
                 "y": {"field": "y", "type": "quantitative", "scale": {"domain": [-1.2089, 1.4647], "nice": false, "zero": false}},
                 "fill": {"field": "ref", "type": "nominal", "scale": {"domain": ["all", "mN", "gN"], "range": ["#000000", "#ff0000", "#0000ff"]}, "legend": null}}},
              {"data": {"values": [{}]}, "mark": {"type": "text", "align": "left", "baseline": "middle", "dx": 3, "fontSize": 18, "font": "Liberation Serif", "fontWeight": "bold", "fill": "black"},
               "encoding": {"text": {"value": "90"}, "x": {"datum": 1.105, "type": "quantitative", "scale": {"domain": [-1.3542, 1.2826], "nice": false, "zero": false}},
                 "y": {"datum": 0, "type": "quantitative", "scale": {"domain": [-1.2089, 1.4647], "nice": false, "zero": false}}}},
              {"data": {"values": [{}]}, "mark": {"type": "text", "align": "right", "baseline": "middle", "dx": -5, "fontSize": 18, "font": "Liberation Serif", "fontWeight": "bold", "fill": "black"},
               "encoding": {"text": {"value": "270"}, "x": {"datum": -1.105, "type": "quantitative", "scale": {"domain": [-1.3542, 1.2826], "nice": false, "zero": false}},
                 "y": {"datum": 0, "type": "quantitative", "scale": {"domain": [-1.2089, 1.4647], "nice": false, "zero": false}}}},
              {"data": {"values": [{}]}, "mark": {"type": "text", "align": "center", "baseline": "alphabetic", "dy": 14.5, "fontSize": 18, "font": "Liberation Serif", "fontWeight": "bold", "fill": "black"},
               "encoding": {"text": {"value": "180"}, "x": {"datum": 0, "type": "quantitative", "scale": {"domain": [-1.3542, 1.2826], "nice": false, "zero": false}},
                 "y": {"datum": -1.105, "type": "quantitative", "scale": {"domain": [-1.2089, 1.4647], "nice": false, "zero": false}}}},
              {"data": {"values": [{}]}, "mark": {"type": "text", "align": "center", "baseline": "alphabetic", "dy": -10.5, "fontSize": 29, "font": "Liberation Serif", "fontWeight": "bold", "fill": "#0000ff"},
               "encoding": {"text": {"value": "gN"}, "x": {"datum": 0, "type": "quantitative", "scale": {"domain": [-1.3542, 1.2826], "nice": false, "zero": false}},
                 "y": {"datum": 1.105, "type": "quantitative", "scale": {"domain": [-1.2089, 1.4647], "nice": false, "zero": false}}}},
              {"data": {"values": [{}]}, "mark": {"type": "text", "align": "right", "baseline": "alphabetic", "dx": -4, "dy": 12, "fontSize": 29, "font": "Liberation Serif", "fontWeight": "bold", "fill": "#ff0000"},
               "encoding": {"text": {"value": "mN"}, "x": {"datum": -0.957, "type": "quantitative", "scale": {"domain": [-1.3542, 1.2826], "nice": false, "zero": false}},
                 "y": {"datum": -0.5525, "type": "quantitative", "scale": {"domain": [-1.2089, 1.4647], "nice": false, "zero": false}}}},
              {"data": {"values": [{}]}, "mark": {"type": "text", "align": "center", "baseline": "alphabetic", "fontSize": 42, "font": "Liberation Serif", "fontWeight": "bold", "fill": "black"},
               "encoding": {"text": {"value": "D"}, "x": {"datum": -1.349, "type": "quantitative", "scale": {"domain": [-1.3542, 1.2826], "nice": false, "zero": false}},
                 "y": {"datum": 1.2858, "type": "quantitative", "scale": {"domain": [-1.2089, 1.4647], "nice": false, "zero": false}}}},
              {"data": {"values": [{}]}, "mark": {"type": "point", "shape": "circle", "filled": true, "size": 961, "fill": "#ffff00", "stroke": "#333333", "strokeWidth": 1, "opacity": 1},
               "encoding": {"x": {"datum": 0.699, "type": "quantitative", "scale": {"domain": [-1.3542, 1.2826], "nice": false, "zero": false}},
                 "y": {"datum": 1.022, "type": "quantitative", "scale": {"domain": [-1.2089, 1.4647], "nice": false, "zero": false}}}}
            ]}
          ],
          "spacing": 0, "bounds": "flush"
        }
      ],
      "spacing": 0
    }
  ]
}
